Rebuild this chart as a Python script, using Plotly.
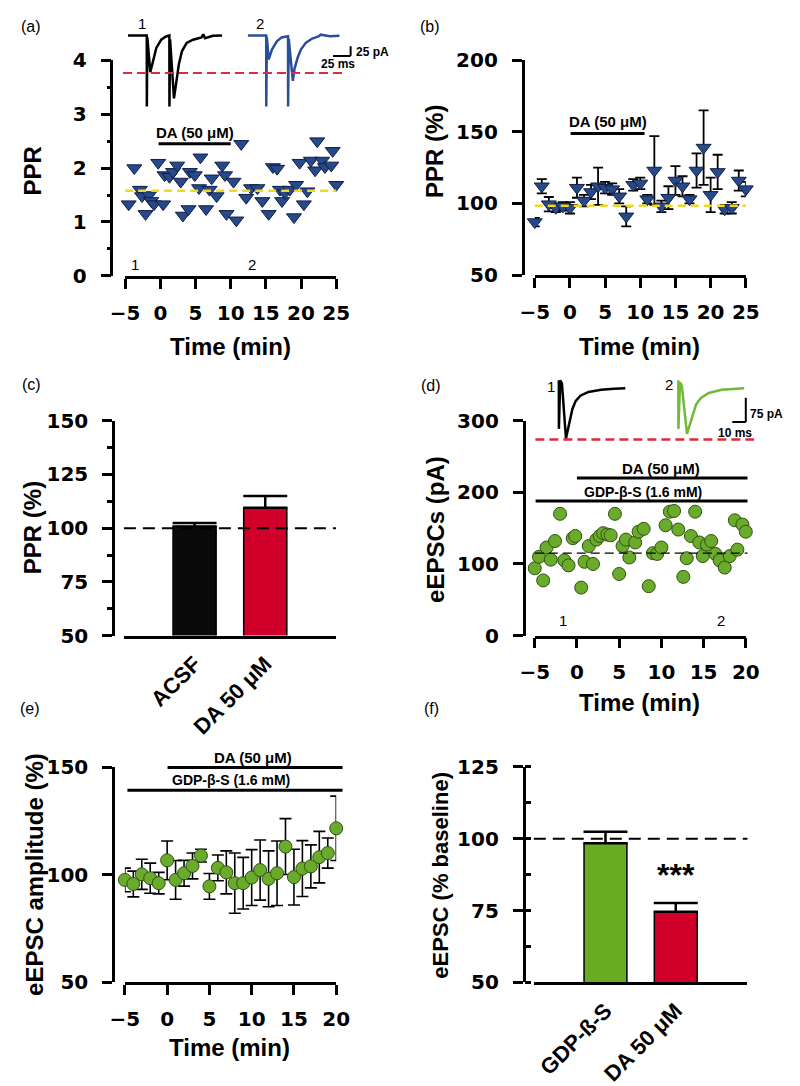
import plotly.graph_objects as go

W, H = 800, 1086

# ---------------- data ----------------
# (a) PPR of a single cell
a_time = [-5.1, -4.5, -3.7, -2.9, -2.6, -2.1, -1.6, -1.3, -0.9, -0.3, 0.4, 0.6, 1.3, 1.8, 2.4,
          2.9, 3.2, 4.0, 4.2, 4.9, 5.5, 5.7, 6.5, 7.0, 7.3, 8.0, 8.8, 9.2, 9.4, 10.4,
          10.8, 11.5, 12.2, 12.9, 13.8, 14.5, 15.4, 16.0, 16.6, 17.0, 17.3, 17.7, 18.4, 19.0,
          19.3, 19.8, 20.4, 20.9, 21.4, 22.0, 22.3, 23.0, 23.4, 24.3, 24.5, 25.0]
a_ppr = [1.60, 1.33, 2.00, 1.60, 1.48, 1.15, 1.50, 1.39, 1.33, 2.10, 1.33, 1.87, 1.84, 1.93, 2.05,
         1.75, 1.12, 1.24, 1.93, 1.87, 1.63, 2.20, 1.24, 1.60, 1.81, 1.48, 2.05, 1.87, 1.15, 1.75,
         1.03, 2.45, 1.45, 1.63, 1.63, 1.39, 1.15, 2.02, 1.99, 1.60, 1.39, 1.54, 1.60, 1.09,
         1.69, 2.10, 1.33, 1.57, 2.14, 1.96, 2.50, 2.14, 2.02, 2.05, 2.32, 1.69]
a_baseline = 1.58
a_da_period = [-0.25, 10.0]
a_trace_times = [-3.6, 13.1]

# (b) PPR (%) mean +/- SEM
b_time = list(range(-5, 26))
b_ppr = [87, 112, 99.5, 97, 98, 97, 111, 102, 108, 112, 111, 110, 105, 91, 113, 114,
         103, 123, 98, 104, 116, 112, 103, 123, 139, 106, 122, 96, 97, 116, 110]
b_sem = [3, 5, 5, 3, 3, 4, 7, 4, 5, 13, 4, 4, 5, 7, 4, 4,
         3, 24, 4, 8, 10, 7, 3, 12, 26, 12, 12, 3, 4, 7, 5]
b_baseline = 98.4
b_da_period = [0.1, 10.6]

# (c) PPR bar graph
c_groups = ["ACSF", "DA 50 μM"]
c_mean = [100.8, 109.5]
c_sem = [1.6, 5.5]

# (d) eEPSC amplitude of a single cell
d_time = [-5.0, -4.5, -4.0, -3.6, -3.1, -2.6, -2.0, -1.5, -1.0, -0.5, -0.2, 0.5, 0.9, 1.4, 1.9,
          2.3, 2.7, 3.1, 3.6, 4.0, 4.5, 5.0, 5.4, 5.8, 6.2, 6.9, 7.3, 7.9, 8.5, 9.0, 9.5,
          10.0, 10.5, 11.0, 11.5, 12.0, 12.6, 13.0, 13.5, 14.0, 14.5, 14.9, 15.4, 15.9, 16.4,
          16.9, 17.5, 18.1, 18.7, 19.0, 19.6, 20.0]
d_amp = [94, 110, 77, 123, 106, 132, 170, 105, 98, 136, 139, 67, 103, 125, 100,
         134, 139, 143, 141, 140, 170, 86, 125, 134, 109, 130, 145, 149, 69, 115, 114,
         123, 154, 173, 174, 148, 82, 108, 139, 173, 130, 111, 127, 132, 114,
         105, 95, 111, 161, 120, 155, 145]
d_baseline = 115
d_da_period = [0.0, 20.2]
d_gdp_period = [-4.9, 20.2]
d_trace_times = [-1.6, 17.1]

# (e) eEPSC amplitude (%) mean +/- SEM
e_time = list(range(-5, 21))
e_amp = [97.7, 95.8, 100.3, 98.5, 96.2, 106.8, 97.7, 100.8, 104.2, 109.0, 94.7, 103.3, 101.2,
         96.2, 96.2, 98.8, 102.3, 98.2, 100.8, 113.2, 99.0, 103.0, 104.0, 108.3, 110.2, 121.7]
e_sem = [5.5, 6, 7, 7, 5, 9, 9, 6, 6, 3, 6, 6, 10,
         14, 12, 13, 14, 13, 15, 13, 13, 13, 10, 12, 7, 15]
e_da_period = [0.05, 20.75]
e_gdp_period = [-4.7, 20.75]

# (f) eEPSC bar graph
f_groups = ["GDP-ß-S", "DA 50 μM"]
f_mean = [98.4, 74.6]
f_sem = [4.0, 3.0]

# example current traces (ms, pA)
trA1_ms = [0, 26.5, 26.6, 27.3, 31.5, 35.5, 40, 47, 53.7, 58.5, 58.6, 59.5, 65, 68, 72, 76.4,
           83, 92, 104, 106.5, 109, 120, 133]
trA1_pA = [0, 0, -182, -5, -94, -65, -32, -11, -2.5, 0, -182, -10, -161, -123, -73, -40,
           -19, -11, -5, 3, -7, -1, 0]
trA2_ms = [0, 25.9, 26.0, 26.8, 29.5, 34, 41, 47.7, 54.6, 56.8, 56.9, 57.8, 63.6, 65.9, 70.4,
           75, 81.9, 90.9, 100, 103, 116, 129.6]
trA2_pA = [0, 0, -182, -5, -61, -36, -15, -5, -2.5, -2, -182, -8, -116, -86, -57,
           -36, -19, -8, -2.5, 2, -2, -1]
trD1_ms = [0, 0.05, 1.0, 2.3, 5.3, 7.6, 10, 12.4, 16, 21.9, 31.4, 41, 49.3]
trD1_pA = [24.5, -127.5, 24.5, 15, -158, -107, -66, -41, -23.5, -12, -5, -2, 0]
trD2_ms = [0, 0.05, 1.2, 2.6, 6.4, 8.3, 10.7, 13.1, 16.7, 22.6, 32.1, 41.7, 48.8]
trD2_pA = [24.5, -127.5, 18, 6, -143, -117, -77, -51.5, -31, -15, -5, -2, 0]

# ---------------- geometry (pixel boxes of each panel's axes) ----------------
# x: (left px, right px, xmin, xmax); y: (bottom px, top px, ymin, ymax)
PANEL = {
    "a": dict(x=(114.3, 333.3, -5, 25), y=(270, 49.5, 0, 4), yaxis_px=100),
    "b": dict(x=(539.3, 758.3, -5, 25), y=(269.3, 49.3, 50, 200), yaxis_px=526.7),
    "c": dict(x=(113, 333, -1, 2), y=(638.3, 418.3, 50, 150), yaxis_px=101.7),
    "d": dict(x=(539.3, 758.3, -5, 20), y=(638.3, 418.3, 0, 300), yaxis_px=527.7),
    "e": dict(x=(114, 333.3, -5, 20), y=(993.3, 773.3, 50, 150), yaxis_px=101.7),
    "f": dict(x=(538.3, 760, -1.02, 2.02), y=(993.3, 772.7, 50, 125), yaxis_px=527.7),
}


def px(x):
    return x / W


def py(y):
    return 1 - y / H


def to_paper(p, xv, yv):
    """map data value of panel p to paper coordinates (same linear scale as the axes)"""
    x0, x1, a0, a1 = PANEL[p]["x"]
    y0, y1, b0, b1 = PANEL[p]["y"]
    xp = x0 + (xv - a0) / (a1 - a0) * (x1 - x0)
    yp = y0 + (yv - b0) / (b1 - b0) * (y1 - y0)
    return px(xp), py(yp)


BLUE = "#27498a"
BLUE_EDGE = "#0f1f45"
GREEN = "#6aab2c"
GREEN_EDGE = "#2f5212"
RED = "#d0002a"
TICKFONT = dict(family="DejaVu Sans", size=20, color="black", weight="bold")
TXT = "Liberation Sans, Arial, sans-serif"
AXIS_IDS = {"a": ("", ""), "b": ("2", "2"), "c": ("3", "3"), "d": ("4", "4"),
            "e": ("5", "5"), "f": ("6", "6")}


def axes_for(p, dtick_y, dtick_x=5, minor=None, xkw=None, ykw=None):
    x0, x1, a0, a1 = PANEL[p]["x"]
    y0, y1, b0, b1 = PANEL[p]["y"]
    n = AXIS_IDS[p][0]
    base = dict(showline=True, linecolor="black", linewidth=2.5, ticks="outside",
                ticklen=10, tickwidth=2.5, tickcolor="black", showgrid=False,
                zeroline=False, tickfont=TICKFONT, fixedrange=True)
    xa = dict(base, domain=[px(x0), px(x1)], range=[a0, a1], anchor="y" + n,
              dtick=dtick_x, tick0=0, ticklabelstandoff=7)
    ya = dict(base, domain=[py(y0), py(y1)], range=[b0, b1], anchor="free",
              position=px(PANEL[p]["yaxis_px"]), dtick=dtick_y, tick0=0,
              ticklabelstandoff=10)
    if minor:
        ya["minor"] = minor
    if xkw:
        xa.update(xkw)
    if ykw:
        ya.update(ykw)
    return {"xaxis" + n: xa, "yaxis" + n: ya}


fig = go.Figure()

# ---- (a)
fig.add_trace(go.Scatter(x=a_time, y=a_ppr, mode="markers", xaxis="x", yaxis="y",
                         cliponaxis=False,
                         marker=dict(symbol="triangle-down", size=13, color=BLUE,
                                     line=dict(color=BLUE_EDGE, width=1))))
# ---- (b)
fig.add_trace(go.Scatter(x=b_time, y=b_ppr, mode="markers", xaxis="x2", yaxis="y2",
                         cliponaxis=False,
                         error_y=dict(type="data", array=b_sem, color="black", thickness=1.8, width=5),
                         marker=dict(symbol="triangle-down", size=13, color=BLUE,
                                     line=dict(color=BLUE_EDGE, width=1))))
# ---- (c)
fig.add_trace(go.Bar(x=c_groups, y=c_mean, xaxis="x3", yaxis="y3", width=0.61,
                     marker=dict(color=["#0a0a0a", RED], line=dict(color="black", width=1.5)),
                     error_y=dict(type="data", array=c_sem, arrayminus=[0, 0], symmetric=False,
                                  color="black", thickness=2.5, width=22)))
# ---- (d)
fig.add_trace(go.Scatter(x=d_time, y=d_amp, mode="markers", xaxis="x4", yaxis="y4",
                         cliponaxis=False,
                         marker=dict(symbol="circle", size=13, color=GREEN,
                                     line=dict(color=GREEN_EDGE, width=1))))
# ---- (e)
fig.add_trace(go.Scatter(x=e_time, y=e_amp, mode="markers", xaxis="x5", yaxis="y5",
                         cliponaxis=False,
                         error_y=dict(type="data", array=e_sem, color="black", thickness=1.6, width=6),
                         marker=dict(symbol="circle", size=13, color=GREEN,
                                     line=dict(color=GREEN_EDGE, width=1))))
# ---- (f)
fig.add_trace(go.Bar(x=f_groups, y=f_mean, xaxis="x6", yaxis="y6", width=0.61,
                     marker=dict(color=["#6aab24", RED], line=dict(color="black", width=1.5)),
                     error_y=dict(type="data", array=f_sem, arrayminus=[0, 0], symmetric=False,
                                  color="black", thickness=2.5, width=22)))

# ---- example traces (a)
A2_OFFSET = 169.7
fig.add_trace(go.Scatter(x=trA1_ms, y=trA1_pA, mode="lines", xaxis="x7", yaxis="y7",
                         line=dict(color="black", width=2.5)))
fig.add_trace(go.Scatter(x=[t + A2_OFFSET for t in trA2_ms], y=trA2_pA, mode="lines",
                         xaxis="x7", yaxis="y7", line=dict(color="#2a4f9a", width=2.5)))
# ---- example traces (d)
D2_OFFSET = 88.6
fig.add_trace(go.Scatter(x=trD1_ms, y=trD1_pA, mode="lines", xaxis="x8", yaxis="y8",
                         line=dict(color="black", width=2.5)))
fig.add_trace(go.Scatter(x=[t + D2_OFFSET for t in trD2_ms], y=trD2_pA, mode="lines",
                         xaxis="x8", yaxis="y8", line=dict(color="#72b83a", width=2.5)))

# ---------------- layout ----------------
CATFONT = dict(family=TXT, size=22, color="black", weight="bold")
layout = dict(
    width=W, height=H, margin=dict(l=0, r=0, t=0, b=0), showlegend=False,
    paper_bgcolor="white", plot_bgcolor="rgba(0,0,0,0)",
    # inset for traces in (a): 0.733 px/ms, 0.4 px/pA
    xaxis7=dict(domain=[px(110), px(370)], range=[-9.96, 344.8], visible=False,
                anchor="y7", fixedrange=True),
    yaxis7=dict(domain=[py(100), py(5)], range=[-190, 47.5], visible=False,
                anchor="x7", fixedrange=True),
    # inset for traces in (d): 1.4 px/ms, 0.327 px/pA
    xaxis8=dict(domain=[px(530), px(800)], range=[-24.5, 168.4], visible=False,
                anchor="y8", fixedrange=True),
    yaxis8=dict(domain=[py(445), py(365)], range=[-183.5, 61.2], visible=False,
                anchor="x8", fixedrange=True),
)
layout.update(axes_for("a", 1, minor=dict(dtick=0.5, ticklen=4, tickwidth=2.5,
                                          tickcolor="black", ticks="outside")))
layout.update(axes_for("b", 50))
layout.update(axes_for("c", 25, minor=dict(dtick=12.5, ticklen=5, tickwidth=2.5,
                                           tickcolor="black", ticks="outside"),
                       xkw=dict(type="category", ticks="", tickangle=-45, tickfont=CATFONT,
                                ticklabelstandoff=4, dtick=None, tick0=None)))
layout.update(axes_for("d", 100))
layout.update(axes_for("e", 50))
layout.update(axes_for("f", 25, minor=dict(dtick=12.5, ticklen=6, tickwidth=2.5,
                                           tickcolor="black", ticks="inside"),
                       xkw=dict(type="category", ticks="", tickangle=-45, tickfont=CATFONT,
                                ticklabelstandoff=4, dtick=None, tick0=None)))
fig.update_layout(**layout)

shapes = []


def seg(x0, y0, x1, y1, color="black", width=2.5, dash="solid", xref="paper", yref="paper"):
    shapes.append(dict(type="line", xref=xref, yref=yref, x0=x0, x1=x1, y0=y0, y1=y1,
                       line=dict(color=color, width=width, dash=dash)))


def pbar(p, t0, t1, yv, color="black", width=3, dash="solid"):
    """horizontal bar in panel p coordinates, drawn in paper space (not clipped)"""
    xa, ya = to_paper(p, t0, yv)
    xb, _ = to_paper(p, t1, yv)
    seg(xa, ya, xb, ya, color, width, dash)


YELLOW = "#f0d820"
# (a)
pbar("a", -5, 25, a_baseline, YELLOW, 2.5, "8px,5px")
pbar("a", a_da_period[0], a_da_period[1], 2.45)
# (b)
pbar("b", -5, 25, b_baseline, YELLOW, 2.5, "8px,5px")
pbar("b", b_da_period[0], b_da_period[1], 148.9)
# (c)
pbar("c", -1, 2, 100, "black", 2, "12px,7px")
# (d)
pbar("d", -5, 20.2, d_baseline, "black", 1.3, "9px,5px")
pbar("d", d_gdp_period[0], d_gdp_period[1], 188)
pbar("d", d_da_period[0], d_da_period[1], 220)
# (e)
pbar("e", e_gdp_period[0], e_gdp_period[1], 139.4)
pbar("e", e_da_period[0], e_da_period[1], 150)
# (f)
pbar("f", -1.02, 2.02, 100, "black", 2, "12px,7px")
# inset (a): red dashed peak level + scale bar
seg(-7.2, -96, 303.8, -96, "#dd2b3b", 2, "9px,5px", "x7", "y7")
seg(315.1, -27.5, 315.1, -52.5, "black", 2, "solid", "x7", "y7")
seg(290.2, -52.5, 315.1, -52.5, "black", 2, "solid", "x7", "y7")
# inset (d)
seg(-17.4, -161, 144.8, -161, "#dd2b3b", 2.5, "9px,5px", "x8", "y8")
seg(138.6, -30, 138.6, -106, "black", 2, "solid", "x8", "y8")
seg(128.6, -106, 138.6, -106, "black", 2, "solid", "x8", "y8")

fig.update_layout(shapes=shapes)

anns = []


def ann(text, x, y, size, xref="paper", yref="paper", bold=True, angle=0,
        xanchor="center", yanchor="middle", family=TXT, pixels=True):
    if xref == "paper" and pixels:
        x = px(x)
    if yref == "paper" and pixels:
        y = py(y)
    anns.append(dict(text=text, x=x, y=y, xref=xref, yref=yref, showarrow=False,
                     textangle=angle, xanchor=xanchor, yanchor=yanchor,
                     font=dict(family=family, size=size, color="black",
                               weight="bold" if bold else "normal")))


def pann(p, text, xv, yv, size, bold=True, **kw):
    xp, yp = to_paper(p, xv, yv)
    ann(text, xp, yp, size, bold=bold, pixels=False, **kw)


# panel letters
for lbl, x, y in [("(a)", 17, 15), ("(b)", 431, 15), ("(c)", 17, 381),
                  ("(d)", 432, 382), ("(e)", 16, 713), ("(f)", 432, 713)]:
    ann(lbl, x, y, 16, bold=False)

# axis titles
ann("PPR", 18, 163, 24, angle=-90)
ann("Time (min)", 224, 342, 24)
ann("PPR (%)", 435, 143, 24, angle=-90)
ann("Time (min)", 648, 342, 24)
ann("PPR (%)", 18, 528, 24, angle=-90)
ann("eEPSCs (pA)", 437, 530, 24, angle=-90)
ann("Time (min)", 648, 707, 24)
ann("eEPSC amplitude (%)", 20, 883, 24, angle=-90)
ann("Time (min)", 223, 1060, 24)
ann("eEPSC (% baseline)", 442, 883, 22, angle=-90)

# in-plot labels
pann("a", "DA (50 μM)", sum(a_da_period) / 2, 2.66, 15)
pann("b", "DA (50 μM)", sum(b_da_period) / 2, 157.5, 15)
pann("d", "DA (50 μM)", 10.0, 233, 15)
pann("d", "GDP-β-S (1.6 mM)", 7.8, 201, 14)
pann("e", "DA (50 μM)", 10.2, 154.6, 15)
pann("e", "GDP-β-S (1.6 mM)", 7.6, 144.2, 14)
pann("f", "***", 1, 80.5, 32, yanchor="bottom")
pann("a", "1", a_trace_times[0], 0.21, 15, bold=False)
pann("a", "2", a_trace_times[1], 0.21, 15, bold=False)
pann("d", "1", d_trace_times[0], 20.5, 15, bold=False)
pann("d", "2", d_trace_times[1], 20.5, 15, bold=False)

# trace labels & scale bar labels
ann("1", 20, 30, 15, "x7", "y7", bold=False)
ann("2", 186.5, 30, 15, "x7", "y7", bold=False)
ann("25 pA", 319.6, -41.7, 12, "x7", "y7", xanchor="left")
ann("25 ms", 297, -73, 12, "x7", "y7")
ann("1", -6.1, 5.2, 15, "x8", "y8", bold=False)
ann("2", 81.4, 10, 15, "x8", "y8", bold=False)
ann("75 pA", 140.5, -81.6, 12, "x8", "y8", xanchor="left")
ann("10 ms", 130.3, -140.7, 12, "x8", "y8")

fig.update_layout(annotations=anns)

fig.write_html("out.html", config={"displayModeBar": False},
               post_script="document.body.style.margin='0';")
